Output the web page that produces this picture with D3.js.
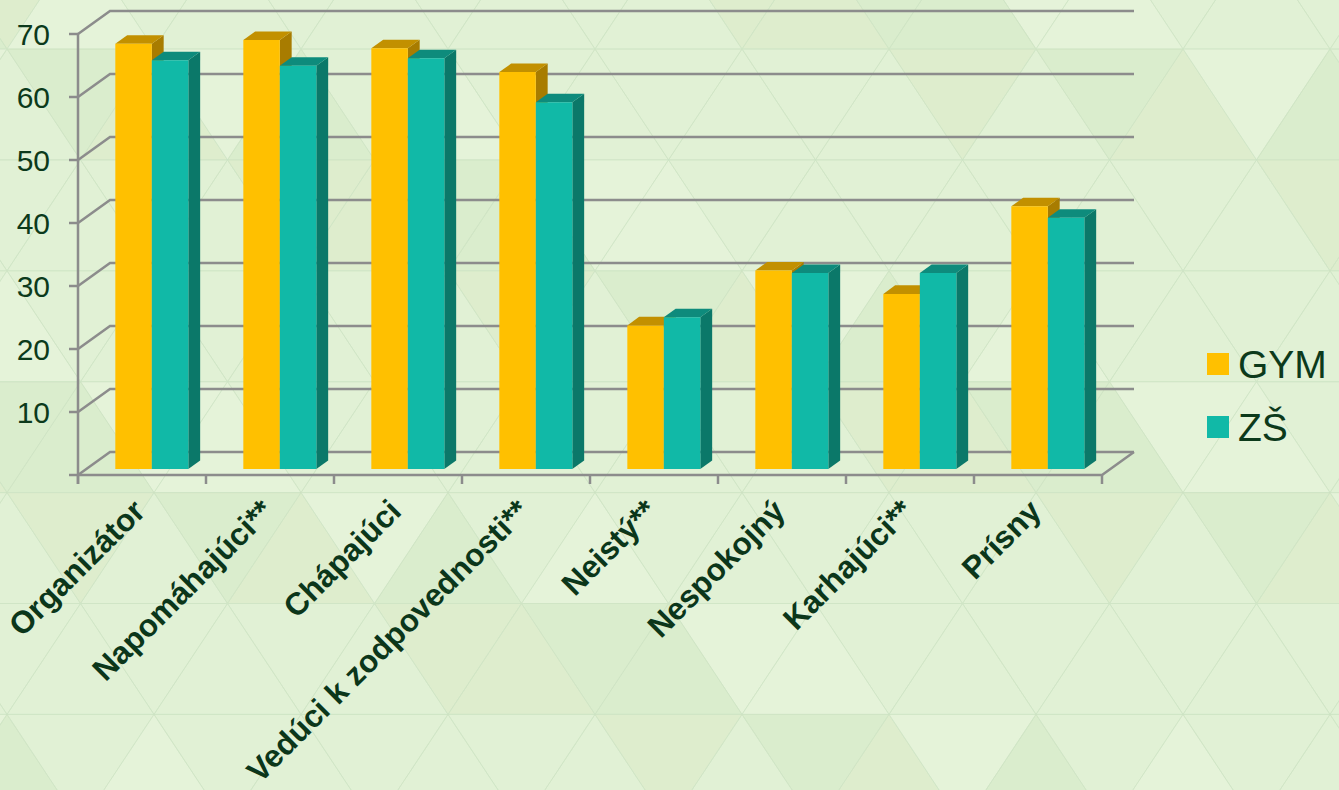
<!DOCTYPE html>
<meta charset="utf-8">
<style>
body { margin: 0; background: #e1f1d5; }
svg { display: block; }
.tick-label { font: 30px "Liberation Sans", Arial, sans-serif; fill: #0c3a1b; }
.cat-label { font: bold 31.5px "Liberation Sans", Arial, sans-serif; fill: #0b361a; }
.legend-label { font: 39px "Liberation Sans", Arial, sans-serif; fill: #0c3a1b; }
</style>
<svg width="1339" height="790"></svg>
<script src="https://d3js.org/d3.v7.min.js"></script>
<script>

// data
var categories = ["Organizátor", "Napomáhajúci**", "Chápajúci", "Vedúci k zodpovednosti**",
                  "Neistý**", "Nespokojný", "Karhajúci**", "Prísny"];
var seriesNames = ["GYM", "ZŠ"];
var gymValues = [67.5, 68.1, 66.8, 63.0, 22.8, 31.5, 27.8, 41.7];
var zsValues  = [64.9, 64.0, 65.2, 58.2, 24.1, 31.1, 31.1, 39.9];
var yTicks = [10, 20, 30, 40, 50, 60, 70];

var svg = d3.select("svg");

// background: pale green with a faint triangle mesh
var bg = svg.append("g");
bg.append("rect").attr("width", 1339).attr("height", 790).attr("fill", "#e1f1d5");
var rowH = 110.9, triW = 147;
var tints = ["rgba(195,222,178,0.22)", null, "rgba(240,248,228,0.3)", null, null, "rgba(215,228,190,0.3)", null];
for (var r = -1; r < 8; r++) {
  var yTop = 49 + rowH * r, yBot = yTop + rowH;
  var offTop = (r % 2 === 0) ? 7 : 80.5;
  var offBot = (r % 2 === 0) ? 80.5 : 7;
  for (var k = -1; k < 11; k++) {
    var a = offTop + k * triW;
    // triangle pointing down: two top vertices, one bottom
    var down = [[a, yTop], [a + triW, yTop], [a + triW / 2, yBot]];
    var b = offBot + k * triW;
    var up = [[b, yBot], [b + triW, yBot], [b + triW / 2, yTop]];
    [down, up].forEach(function(tri, j) {
      var t = tints[Math.abs(r * 3 + k * 2 + j * 5) % tints.length];
      bg.append("path")
        .attr("d", "M" + tri.join("L") + "Z")
        .attr("fill", t || "none")
        .attr("stroke", "rgba(206,228,196,0.7)")
        .attr("stroke-width", 1);
    });
  }
}

// 3d chart frame
var depthX = 32, depthY = -23;
var x = d3.scaleBand().domain(categories).range([78, 1102]);
var y = d3.scaleLinear().domain([0, 70]).range([475, 34]);
var xs = d3.scaleBand().domain(seriesNames).range([0, 73]);

function pt(px, v, d) { return [px + d * depthX, y(v) + d * depthY]; }

var grid = svg.append("g")
    .attr("fill", "none")
    .attr("stroke", "#8c8c8c")
    .attr("stroke-width", 2.5);

// back wall grid lines with the slanted left wall segment
[0].concat(yTicks).forEach(function(t) {
  var p0 = pt(78, t, 0), p1 = pt(78, t, 1), p2 = pt(1102, t, 1);
  grid.append("path").attr("d", "M" + [p0, p1, p2].join("L"));
});
// floor front + right side
grid.append("path").attr("d", "M" + [pt(78, 0, 0), pt(1102, 0, 0), pt(1102, 0, 1)].join("L"));

// y axis
var axis = svg.append("g").attr("stroke", "#8c8c8c").attr("stroke-width", 2.5);
axis.append("line").attr("x1", 78).attr("x2", 78).attr("y1", y(70)).attr("y2", y(0) + 9);
[0].concat(yTicks).forEach(function(t) {
  axis.append("line").attr("x1", 69).attr("x2", 78).attr("y1", y(t)).attr("y2", y(t));
});
// x ticks at category boundaries
categories.concat([null]).forEach(function(c, i) {
  var px = 78 + i * x.bandwidth();
  axis.append("line").attr("x1", px).attr("x2", px).attr("y1", y(0)).attr("y2", y(0) + 9);
});

svg.append("g").selectAll("text").data(yTicks).join("text")
    .attr("class", "tick-label")
    .attr("x", 50)
    .attr("y", function(d) { return y(d) + 11; })
    .attr("text-anchor", "end")
    .text(function(d) { return d; });

// bars
var colors = {
  GYM: {front: "#ffc000", top: "#c29000", side: "#a87c00"},
  "ZŠ": {front: "#11b9a7", top: "#0e8b7c", side: "#0b7869"}
};
var dFront = 0.26, dBack = 0.63;
var bars = svg.append("g");
categories.forEach(function(c, i) {
  [gymValues[i], zsValues[i]].forEach(function(v, s) {
    var name = seriesNames[s], col = colors[name];
    var x0 = x(c) + 29 + xs(name), x1 = x0 + xs.bandwidth();
    var fl = pt(x0, v, dFront), fr = pt(x1, v, dFront);
    var bl = pt(x0, v, dBack), br = pt(x1, v, dBack);
    var frb = pt(x1, 0, dFront), brb = pt(x1, 0, dBack), flb = pt(x0, 0, dFront);
    bars.append("path").attr("d", "M" + [fr, br, brb, frb].join("L") + "Z").attr("fill", col.side);
    bars.append("path").attr("d", "M" + [fl, fr, br, bl].join("L") + "Z").attr("fill", col.top);
    bars.append("path").attr("d", "M" + [fl, fr, frb, flb].join("L") + "Z").attr("fill", col.front);
  });
});

// category labels, rotated
svg.append("g").selectAll("text").data(categories).join("text")
    .attr("class", "cat-label")
    .attr("text-anchor", "end")
    .attr("transform", function(d) {
      return "translate(" + (x(d) + x.bandwidth() / 2 + 5) + ",513) rotate(-45)";
    })
    .text(function(d) { return d; });

// legend
var legend = svg.append("g").selectAll("g").data(seriesNames).join("g")
    .attr("transform", function(d, i) { return "translate(1207," + (353 + i * 63) + ")"; });
legend.append("rect").attr("width", 22).attr("height", 22)
    .attr("fill", function(d) { return colors[d].front; });
legend.append("text").attr("class", "legend-label")
    .attr("x", 31).attr("y", 25)
    .text(function(d) { return d; });

</script>
